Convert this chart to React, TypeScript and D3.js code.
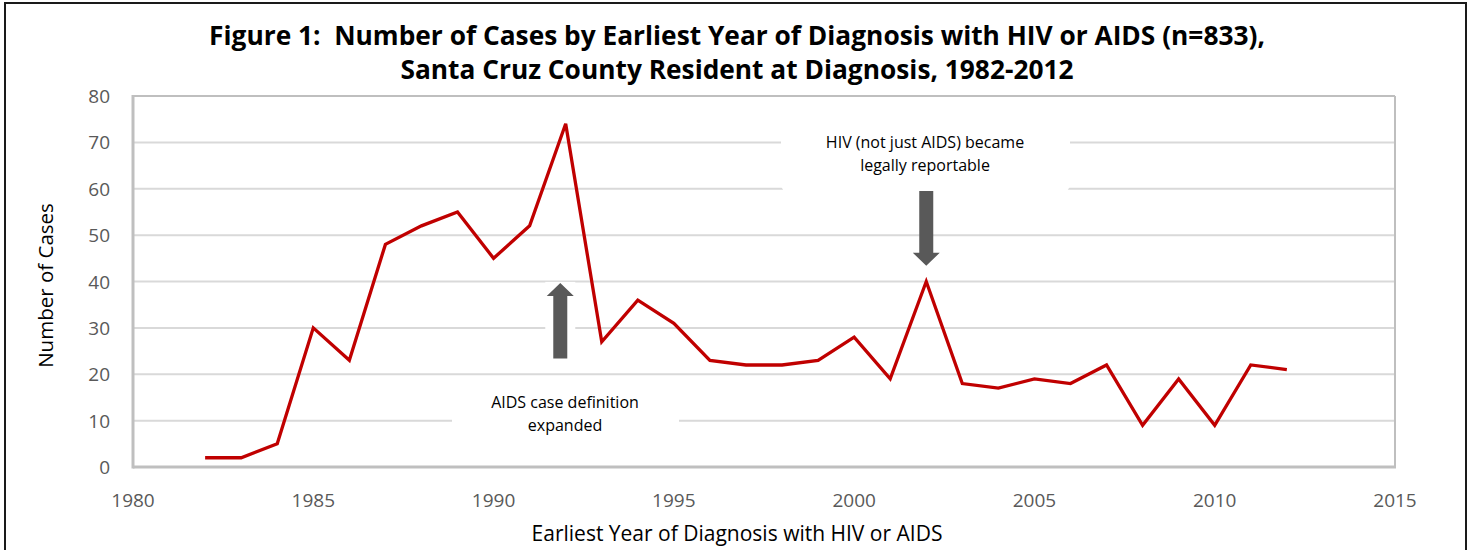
import React from "react";
import * as d3 from "d3";

const years = [1982,1983,1984,1985,1986,1987,1988,1989,1990,1991,1992,1993,1994,1995,1996,1997,1998,1999,2000,2001,2002,2003,2004,2005,2006,2007,2008,2009,2010,2011,2012];
const cases = [2,2,5,30,23,48,52,55,45,52,74,27,36,31,23,22,22,23,28,19,40,18,17,19,18,22,9,19,9,22,21];
const xTicks = [1980,1985,1990,1995,2000,2005,2010,2015];
const yTicks = [0,10,20,30,40,50,60,70,80];
const titleLines = [
  "Figure 1:  Number of Cases by Earliest Year of Diagnosis with HIV or AIDS (n=833),",
  "Santa Cruz County Resident at Diagnosis, 1982-2012",
];
const annotUp = ["AIDS case definition", "expanded"];
const annotDown = ["HIV (not just AIDS) became", "legally reportable"];

const W = 1473, H = 550;
const L = 133, R = 1395, T = 96, B = 467;
const FONT = "'Open Sans', 'DejaVu Sans', sans-serif";

export default function App() {
  const x = d3.scaleLinear().domain([1980, 2015]).range([L, R]);
  const y = d3.scaleLinear().domain([0, 80]).range([B, T]);
  const line = d3.line<number>().x((_, i) => x(years[i])).y((d) => y(d)).curve(d3.curveLinear);

  const upX = x(1991.85);
  const upTop = y(39.7), upHeadBase = y(36.9), upBottom = y(23.4);
  const dnX = x(2002);
  const dnTop = y(59.5), dnHeadBase = y(46.2), dnTip = y(43.4);
  const headHalf = 13.5, shaftHalf = 7;

  const upPath = `M${upX},${upTop} L${upX + headHalf},${upHeadBase} L${upX + shaftHalf},${upHeadBase} L${upX + shaftHalf},${upBottom} L${upX - shaftHalf},${upBottom} L${upX - shaftHalf},${upHeadBase} L${upX - headHalf},${upHeadBase} Z`;
  const dnPath = `M${dnX},${dnTip} L${dnX + headHalf},${dnHeadBase} L${dnX + shaftHalf},${dnHeadBase} L${dnX + shaftHalf},${dnTop} L${dnX - shaftHalf},${dnTop} L${dnX - shaftHalf},${dnHeadBase} L${dnX - headHalf},${dnHeadBase} Z`;

  return (
    <svg width={W} height={H} style={{ position: "absolute", left: 0, top: 0, background: "#fff" }} fontFamily={FONT}>
      <rect x={0} y={0} width={W} height={H} fill="#fff" />
      <rect x={5} y={3} width={1461} height={H + 20} fill="none" stroke="#1a1a1a" strokeWidth={2} />
      {titleLines.map((t, i) => (
        <text key={i} x={737} y={45 + i * 34} textAnchor="middle" fontSize={26.3} fontWeight="bold" fill="#000" style={{ whiteSpace: "pre" }}>{t}</text>
      ))}
      {yTicks.filter((v) => v > 0).map((v) => (
        <line key={v} x1={L} x2={R} y1={y(v)} y2={y(v)} stroke="#d9d9d9" strokeWidth={2} />
      ))}
      <line x1={L} x2={R} y1={T} y2={T} stroke="#bfbfbf" strokeWidth={2} />
      <line x1={R} x2={R} y1={T} y2={B} stroke="#bfbfbf" strokeWidth={2} />
      <line x1={L} x2={L} y1={T - 1} y2={B + 1.5} stroke="#bfbfbf" strokeWidth={3} />
      <line x1={L} x2={R + 1} y1={B} y2={B} stroke="#bfbfbf" strokeWidth={3} />
      <rect x={452} y={384} width={227} height={52} fill="#fff" />
      <rect x={781} y={118} width={289} height={73} rx={6} fill="#fff" />
      <rect x={upX - 15} y={upTop - 1} width={30} height={upBottom - upTop + 2} fill="#fff" />
      {yTicks.map((v) => (
        <text key={v} x={110} y={y(v) + 7} textAnchor="end" fontSize={19} fill="#595959">{v}</text>
      ))}
      {xTicks.map((v) => (
        <text key={v} x={x(v)} y={507} textAnchor="middle" fontSize={19} fill="#595959">{v}</text>
      ))}
      <text x={737} y={541} textAnchor="middle" fontSize={21} fill="#000">Earliest Year of Diagnosis with HIV or AIDS</text>
      <text transform={`translate(53,${(T + B) / 2 + 4}) rotate(-90)`} textAnchor="middle" fontSize={20.5} fill="#000">Number of Cases</text>
      <path d={line(cases) || ""} fill="none" stroke="#c00000" strokeWidth={3.3} strokeLinejoin="miter" />
      <path d={upPath} fill="#595959" />
      <path d={dnPath} fill="#595959" />
      {annotUp.map((t, i) => (
        <text key={i} x={565} y={408 + i * 23} textAnchor="middle" fontSize={16} fill="#000">{t}</text>
      ))}
      {annotDown.map((t, i) => (
        <text key={i} x={925} y={148 + i * 23} textAnchor="middle" fontSize={16} fill="#000">{t}</text>
      ))}
    </svg>
  );
}
